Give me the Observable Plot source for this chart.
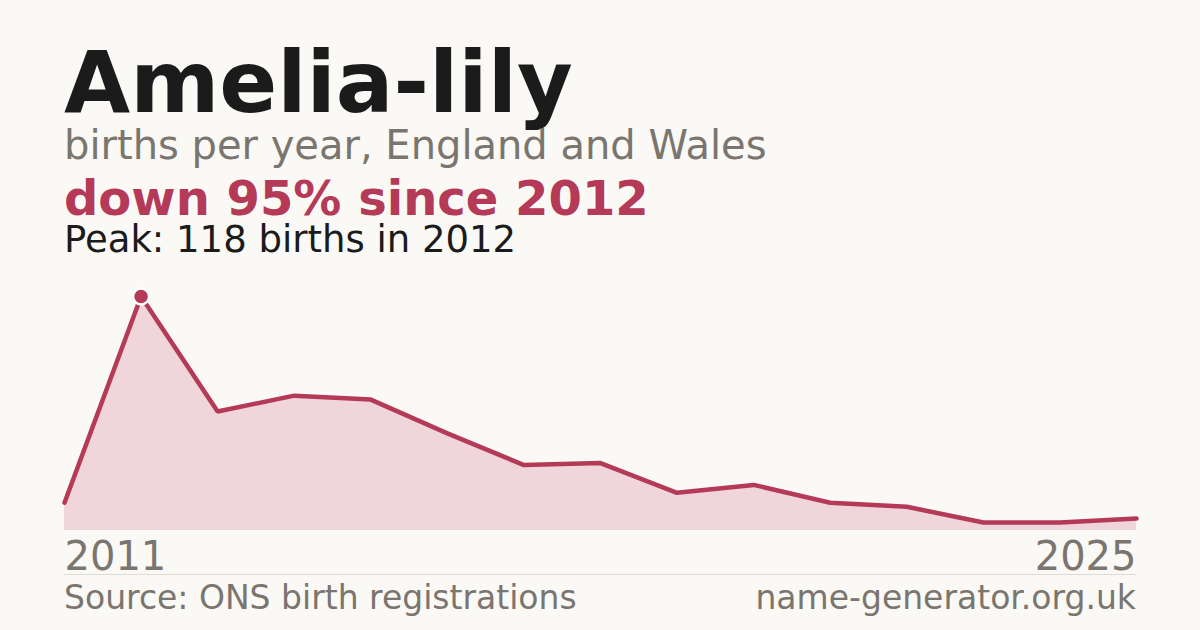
<!DOCTYPE html>
<html>
<head>
<meta charset="utf-8">
<script src="https://cdn.jsdelivr.net/npm/d3@7"></script>
<script src="https://cdn.jsdelivr.net/npm/@observablehq/plot@0.6"></script>
<style>
  html, body { margin: 0; padding: 0; }
  body { width: 1200px; height: 630px; background: #faf9f5; position: relative; overflow: hidden; font-family: "DejaVu Sans", sans-serif; }
  .t { position: absolute; left: 64px; line-height: 0.8; white-space: nowrap; }
  #title { font-size: 85.5px; font-weight: bold; color: #1b1b1b; top: 48.5px; }
  #sub { font-size: 40px; color: #7a756e; top: 128.5px; }
  #down { font-size: 48px; font-weight: bold; color: #b43a58; top: 178.5px; }
  #peak { font-size: 37px; color: #1b1b1b; top: 225.2px; }
  #chart { position: absolute; left: 0; top: 270px; }
  #rule { position: absolute; left: 64px; width: 1072px; top: 574px; height: 0; border-top: 1px solid #dedbd4; }
  .foot { position: absolute; top: 584.7px; font-size: 33px; color: #7a756e; line-height: 0.8; white-space: nowrap; }
  #src { left: 64px; }
  #site { right: 64px; }
</style>
</head>
<body>
<div class="t" id="title">Amelia-lily</div>
<div class="t" id="sub">births per year, England and Wales</div>
<div class="t" id="down">down 95% since 2012</div>
<div class="t" id="peak">Peak: 118 births in 2012</div>
<div id="chart"></div>
<div id="rule"></div>
<div class="foot" id="src">Source: ONS birth registrations</div>
<div class="foot" id="site">name-generator.org.uk</div>
<script>
const years = [2011, 2012, 2013, 2014, 2015, 2016, 2017, 2018, 2019, 2020, 2021, 2022, 2023, 2024, 2025];
const births = [14, 118, 60, 68, 66, 49, 33, 34, 19, 23, 14, 12, 4, 4, 6];
const peakYear = 2012;
const peakValue = 118;
const firstYear = [2011];
const lastYear = [2025];

const data = years.map((y, i) => ({year: y, births: births[i]}));
const peak = [{year: peakYear, births: peakValue}];

const chart = Plot.plot({
  width: 1200,
  height: 310,
  marginLeft: 64,
  marginRight: 64,
  marginTop: 26,
  marginBottom: 50,
  style: {background: "transparent", fontFamily: "DejaVu Sans, sans-serif"},
  x: {domain: [2011, 2025], axis: null},
  y: {domain: [0, 118], axis: null},
  marks: [
    Plot.areaY(data, {x: "year", y: "births", fill: "#f0d5da"}),
    Plot.lineY(data, {x: "year", y: "births", stroke: "#b43a58", strokeWidth: 4.5, strokeLinejoin: "miter"}),
    Plot.dot(peak, {x: "year", y: "births", r: 8, fill: "#b43a58", stroke: "#ffffff", strokeWidth: 2.5}),
    Plot.axisX({ticks: firstYear, tickSize: 0, tickPadding: 11, fontSize: 40, textAnchor: "start", tickFormat: d => String(d), color: "#7a756e", label: null}),
    Plot.axisX({ticks: lastYear, tickSize: 0, tickPadding: 11, fontSize: 40, textAnchor: "end", tickFormat: d => String(d), color: "#7a756e", label: null})
  ]
});
document.getElementById("chart").appendChild(chart);
</script>
</body>
</html>
